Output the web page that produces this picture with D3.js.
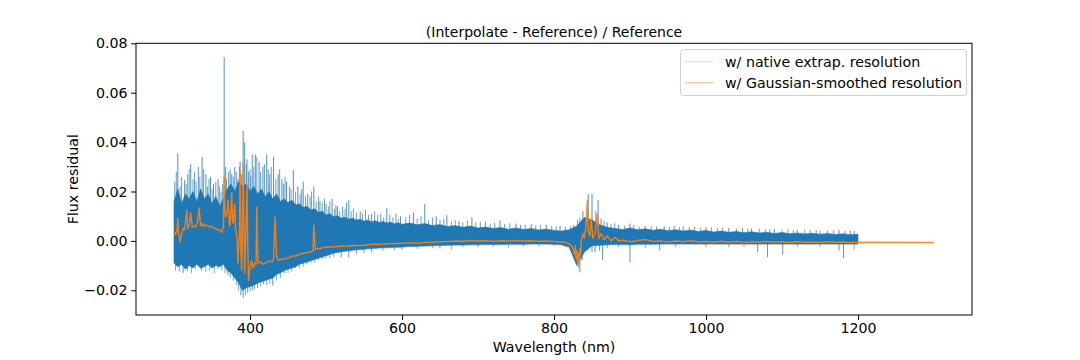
<!DOCTYPE html>
<html><head><meta charset="utf-8">
<script src="https://cdn.jsdelivr.net/npm/d3@7"></script>
<style>
body{margin:0;background:#fff;}
text{font-family:"DejaVu Sans",sans-serif;}
</style></head>
<body><svg id="c" width="1080" height="360"></svg>
<script>
// ---- data ----
const coreWave = [300,305,310,315,320,325,330,335,340,345,350,355,360,365,370,375,380,385,390,395,
400,405,410,415,420,425,430,435,440,445,450,455,460,465,470,475,480,485,490,495,
500,505,510,515,520,525,530,535,540,545,550,555,560,565,570,575,580,585,590,595,600,
610,620,630,640,650,660,670,680,690,700,710,720,730,740,750,760,770,780,790,800,
810,820,830,840,850,860,870,880,890,900,910,920,930,940,950,960,970,980,990,1000,
1010,1020,1030,1040,1050,1060,1070,1080,1090,1100,1110,1120,1130,1140,1150,1160,1170,1180,1190,1200];
const coreUpper = [0.016,0.021,0.015,0.019,0.017,0.020,0.016,0.021,0.017,0.019,0.015,0.018,0.014,0.017,0.021,0.023,0.020,0.024,0.022,0.023,
0.020,0.022,0.019,0.021,0.018,0.020,0.017,0.019,0.016,0.017,0.0155,0.0165,0.0145,0.015,0.0135,0.014,0.0125,0.013,0.0115,0.012,
0.0105,0.011,0.0098,0.0102,0.0092,0.0096,0.0088,0.0092,0.0084,0.0088,0.0080,0.0085,0.0077,0.0082,0.0074,0.0079,0.0072,0.0076,0.0069,0.0073,0.0067,
0.0072,0.0065,0.0070,0.0062,0.0066,0.0058,0.0062,0.0055,0.0060,0.0052,0.0056,0.0050,0.0054,0.0047,0.0052,0.0046,0.0050,0.0044,0.0048,0.0042,
0.0040,0.0045,0.0060,0.0095,0.0085,0.0065,0.0055,0.0050,0.0046,0.0052,0.0045,0.0049,0.0043,0.0047,0.0041,0.0045,0.0040,0.0044,0.0038,0.0042,
0.0036,0.0040,0.0035,0.0038,0.0033,0.0037,0.0032,0.0035,0.0030,0.0034,0.0029,0.0032,0.0028,0.0031,0.0027,0.0030,0.0026,0.0029,0.0025,0.0027];
const coreLower = [-0.009,-0.0105,-0.0095,-0.0115,-0.010,-0.011,-0.0095,-0.011,-0.0105,-0.0095,-0.011,-0.010,-0.0105,-0.0095,-0.012,-0.013,-0.015,-0.017,-0.020,-0.019,
-0.0185,-0.018,-0.017,-0.0165,-0.016,-0.0155,-0.015,-0.0135,-0.013,-0.012,-0.0115,-0.011,-0.0105,-0.0095,-0.009,-0.0085,-0.008,-0.0075,-0.007,-0.0065,
-0.006,-0.0055,-0.005,-0.0047,-0.0044,-0.0042,-0.004,-0.0038,-0.0036,-0.0035,-0.0034,-0.0032,-0.0031,-0.003,-0.0029,-0.0028,-0.0028,-0.0027,-0.0026,-0.0026,-0.0025,
-0.0023,-0.0022,-0.0021,-0.0020,-0.0019,-0.0018,-0.0017,-0.0017,-0.0016,-0.0016,-0.0015,-0.0015,-0.0015,-0.0014,-0.0014,-0.0014,-0.0013,-0.0013,-0.0013,-0.0014,
-0.0016,-0.0025,-0.0100,-0.0045,-0.0020,-0.0018,-0.0016,-0.0015,-0.0015,-0.0016,-0.0014,-0.0014,-0.0014,-0.0013,-0.0013,-0.0013,-0.0013,-0.0013,-0.0013,-0.0013,
-0.0013,-0.0013,-0.0013,-0.0013,-0.0013,-0.0013,-0.0013,-0.0013,-0.0013,-0.0013,-0.0013,-0.0013,-0.0013,-0.0013,-0.0013,-0.0013,-0.0013,-0.0013,-0.0013,-0.0013];

// tall isolated spikes
const spikeWave = [305,314,322,332,337,342,348,352,358,366,368,372,376,380,384,387,391,393,396,400,403,407,412,417,422,426,431,437,442,448,
457,463,470,476,484,492,500,508,515,522,530,545,560,580,598,615,630,645,659,675,692,710,729,750,770,790,808,838,845,850,858,862,870,885,900,920,945,970,1000,1030,1060,1090,1120,1150,1175,1195];
const spikeTop = [0.0355,0.0246,0.031,0.030,0.034,0.027,0.026,0.023,0.025,0.0745,0.030,0.028,0.027,0.030,0.025,0.032,0.0445,0.040,0.033,0.029,0.035,0.035,0.032,0.030,0.035,0.027,0.034,0.027,0.025,0.024,
0.0287,0.022,0.024,0.019,0.022,0.016,0.015,0.017,0.014,0.0137,0.0165,0.012,0.011,0.0133,0.010,0.0115,0.015,0.010,0.0104,0.008,0.0096,0.0078,0.0083,0.007,0.0068,0.0065,0.006,0.012,0.019,0.019,0.0165,0.009,0.0075,0.0065,0.007,0.006,0.006,0.0058,0.0055,0.0052,0.005,0.0048,0.0045,0.0042,0.0045,0.004];
// shorter fringe spikes above the dense band
const fringeUp = [[301,0.024],[303,0.028],[308,0.022],[310,0.026],[316,0.023],[318,0.027],[320,0.029],[325,0.025],[327,0.028],[329,0.024],
[334,0.026],[339,0.029],[344,0.022],[346,0.025],[350,0.021],[355,0.024],[360,0.022],[362,0.020],[364,0.023],
[369,0.025],[374,0.029],[378,0.026],[382,0.028],[386,0.030],[389,0.027],[395,0.031],[398,0.028],[401,0.026],[405,0.030],[409,0.034],
[414,0.028],[419,0.031],[424,0.029],[428,0.030],[434,0.025],[439,0.029],[444,0.023],[446,0.026],
[452,0.022],[454,0.021],[460,0.020],[466,0.019],[468,0.021],[473,0.018],[479,0.018],[481,0.020],[487,0.016],[490,0.018],[495,0.0155],[498,0.017],
[503,0.014],[505,0.016],[511,0.013],[513,0.0145],[518,0.012],[525,0.013],[527,0.0155],[533,0.012],[536,0.013],[540,0.0115],[548,0.011],[552,0.0125],
[556,0.0105],[564,0.012],[568,0.0105],[572,0.011],[576,0.0095],[584,0.0105],[588,0.0095],[592,0.011],[595,0.009],
[605,0.0095],[610,0.0105],[620,0.009],[625,0.010],[635,0.0085],[640,0.0095],[650,0.0085],[655,0.009],[665,0.008],[670,0.0085],[680,0.0075],[686,0.0082],
[697,0.0075],[703,0.0078],[716,0.007],[722,0.0072],[735,0.0068],[742,0.0072],[756,0.0065],[762,0.0066],[776,0.0062],[782,0.0065],[797,0.006],[803,0.0058],
[815,0.0057],[822,0.006],[826,0.0065],[831,0.0085],[834,0.0095],[855,0.012],[866,0.008],[875,0.0068],[880,0.0072],[893,0.0062],[905,0.0065],[912,0.0058],
[928,0.006],[935,0.0058],[952,0.0056],[958,0.006],[965,0.0055],[978,0.0056],[985,0.0058],[993,0.0053],[1007,0.0055],[1015,0.0052],[1022,0.0054],
[1040,0.005],[1048,0.0052],[1055,0.0048],[1070,0.005],[1078,0.0047],[1084,0.0049],[1100,0.0046],[1108,0.0047],[1115,0.0044],[1130,0.0045],[1137,0.0043],
[1145,0.0045],[1160,0.0042],[1168,0.0044],[1183,0.004],[1190,0.0042]];
const dipWave = [312,318,336,371,378,388,391,397,403,410,418,430,445,460,475,490,520,530,560,600,650,700,760,800,828,832,834,837,850,854,860,864,900,939,1068,1081,1101,1175,1181];
const dipBottom = [-0.013,-0.012,-0.012,-0.014,-0.016,-0.022,-0.023,-0.021,-0.020,-0.019,-0.0175,-0.018,-0.013,-0.011,-0.0095,-0.0075,-0.0066,-0.0066,-0.0045,-0.0035,-0.003,-0.0025,-0.0022,-0.002,-0.006,-0.0107,-0.0127,-0.0078,-0.0046,-0.0046,-0.004,-0.0078,-0.0086,-0.0038,-0.0046,-0.0066,-0.0056,-0.0038,-0.007];
const fringeDown = [[302,-0.012],[307,-0.0125],[323,-0.013],[328,-0.0115],[342,-0.0125],[347,-0.012],[353,-0.013],[358,-0.0115],[363,-0.012],[367,-0.013],
[374,-0.015],[382,-0.018],[385,-0.020],[394,-0.022],[400,-0.0205],[406,-0.0195],[414,-0.0185],[422,-0.018],[426,-0.0175],[435,-0.016],[440,-0.015],
[450,-0.013],[455,-0.0125],[465,-0.011],[470,-0.0105],[480,-0.009],[485,-0.0088],[495,-0.0075],[500,-0.0072],[505,-0.007],[510,-0.0065],[540,-0.0055],
[550,-0.005],[575,-0.004],[590,-0.0038],[620,-0.0032],[640,-0.003],[665,-0.0035],[680,-0.0026],[720,-0.0024],[740,-0.0028],[780,-0.0022],[815,-0.0025],
[870,-0.003],[885,-0.0025],[920,-0.0028],[960,-0.0025],[1000,-0.0024],[1030,-0.0026],[1050,-0.0025],[1120,-0.0025],[1150,-0.0024],[1195,-0.0035]];

const orangeWave = [300,302,304,305,306,308,310,312,314,317,318,320,322,324,326,328,331,333,335,337,339,341,344,347,350,352,354,357,360,363,
365,366,367,368,370,371,373,374,376,377,378,380,381,383,384,386,387,388,389,390,391,392,393,395,396,397,398,400,402,404,
406,408,409,410,411,414,417,420,423,426,429,431,433,435,437,440,445,450,455,460,465,470,475,480,483,484,486,488,492,496,
500,510,520,530,540,550,560,570,580,590,600,610,620,630,640,650,660,670,680,690,700,710,720,730,740,750,760,770,780,790,
800,810,815,820,823,825,827,828,829,830,831,832,833,834,835,836,838,840,842,844,845,847,849,851,854,857,859,862,866,870,
875,880,885,890,900,910,920,930,940,950,960,970,980,990,1000,1010,1020,1030,1040,1050,1060,1070,1080,1090,1100,1110,1120,1130,1140,1150,
1160,1170,1180,1190,1200,1300];
const orangeVal = [0.0035,0.0025,0.0043,0.0092,0.0035,-0.0005,0.003,0.005,0.0045,0.0125,0.005,0.0064,0.0116,0.0055,0.006,0.0056,0.0075,0.0133,0.006,0.0072,0.0058,0.0064,0.0062,0.0056,0.0058,0.005,0.0052,0.0046,0.0043,0.0035,
0.006,0.026,0.012,0.0097,0.012,0.0165,0.006,0.0072,0.0194,0.008,0.0072,0.015,0.005,0.0015,-0.009,0.002,0.028,-0.0038,-0.012,0.004,0.0315,0.005,-0.013,0.01,0.022,0.0,-0.016,-0.011,-0.008,-0.011,
-0.009,-0.0095,0.0137,-0.004,-0.009,-0.0085,-0.0095,-0.009,-0.0085,-0.008,-0.0085,-0.0075,0.0097,-0.006,-0.0078,-0.0075,-0.0072,-0.007,-0.0062,-0.006,-0.0055,-0.005,-0.0048,-0.0044,-0.004,0.0064,-0.0035,-0.003,-0.0032,-0.0028,
-0.0026,-0.0024,-0.0022,-0.0021,-0.0019,-0.0018,-0.0014,-0.0015,-0.0012,-0.0011,-0.001,-0.0008,-0.0009,-0.0006,-0.0005,-0.0003,-0.0002,0.0,-0.0001,0.0002,0.0,0.0001,-0.0001,0.0001,0.0,0.0002,0.0,0.0001,-0.0001,0.0,
-0.0002,-0.0004,-0.0006,-0.0012,-0.002,-0.003,-0.0055,-0.002,-0.007,-0.004,-0.009,-0.005,-0.0095,-0.003,-0.006,0.0,0.003,0.001,0.006,0.0165,0.004,0.002,0.009,0.001,0.003,0.011,0.001,0.003,0.0005,0.002,
0.0,0.0015,0.0,0.0003,-0.0003,0.0002,0.0006,-0.0002,0.0,-0.0004,0.0,-0.0003,0.0001,-0.0004,-0.0002,-0.0005,-0.0001,-0.0005,-0.0002,-0.0006,-0.0003,-0.0005,-0.0002,-0.0005,-0.0003,-0.0006,-0.0003,-0.0005,-0.0004,-0.0006,
-0.0003,-0.0005,-0.0004,-0.0006,-0.0005,-0.0006];

const xTicks = [400,600,800,1000,1200];
const yTicks = [-0.02,0.00,0.02,0.04,0.06,0.08];
const titleText = "(Interpolate - Reference) / Reference";
const xLabel = "Wavelength (nm)";
const yLabel = "Flux residual";
const legendLabels = ["w/ native extrap. resolution","w/ Gaussian-smoothed resolution"];

// ---- drawing ----
const L=136, R=972, T=43.3, B=315;
const svg = d3.select("#c");
const x = d3.scaleLinear().domain([250,1350]).range([L,R]);
const y = d3.scaleLinear().domain([-0.03,0.08]).range([B,T]);
const blue="#1f77b4", orange="#ff7f0e";

svg.append("defs").append("clipPath").attr("id","clip")
  .append("rect").attr("x",L).attr("y",T).attr("width",R-L).attr("height",B-T);
const g = svg.append("g").attr("clip-path","url(#clip)");

function vlines(data, cls, op, w){
  g.selectAll("line."+cls).data(data).join("line").attr("class",cls)
    .attr("x1",d=>x(d[0])).attr("x2",d=>x(d[0]))
    .attr("y1",y(0)).attr("y2",d=>y(d[1]))
    .attr("stroke",blue).attr("stroke-width",w).attr("stroke-opacity",op);
}
vlines(fringeUp,"fu",0.7,1);
vlines(fringeDown,"fd",0.6,1);
vlines(spikeWave.map((d,i)=>[d,spikeTop[i]]),"sp",0.8,1);
vlines(dipWave.map((d,i)=>[d,dipBottom[i]]),"dp",0.75,1);

// dense core
const area = d3.area().x(d=>x(d)).y0((d,i)=>y(coreLower[i])).y1((d,i)=>y(coreUpper[i]));
g.append("path").datum(coreWave).attr("d",area).attr("fill",blue)
  .attr("stroke",blue).attr("stroke-width",1).attr("stroke-opacity",0.6);

// orange
const line = d3.line().x(d=>x(d)).y((d,i)=>y(orangeVal[i]));
g.append("path").datum(orangeWave).attr("d",line).attr("fill","none")
  .attr("stroke",orange).attr("stroke-width",1.5).attr("stroke-opacity",0.9).attr("stroke-linejoin","round");

// axes
const fs = "14.2px";
const xa = svg.append("g").attr("transform",`translate(0,${B})`)
  .call(d3.axisBottom(x).tickValues(xTicks).tickSize(4.9).tickPadding(3.5).tickFormat(d3.format("d")));
const ya = svg.append("g").attr("transform",`translate(${L},0)`)
  .call(d3.axisLeft(y).tickValues(yTicks).tickSize(4.9).tickPadding(3.5).tickFormat(d=>d3.format(".2f")(d).replace("-","\u2212")));
[xa,ya].forEach(a=>{
  a.select(".domain").remove();
  a.selectAll("text").attr("font-size",fs).attr("fill","#000").attr("font-family","DejaVu Sans");
  a.selectAll("line").attr("stroke","#000").attr("stroke-width",1);
});
svg.append("rect").attr("x",L).attr("y",T).attr("width",R-L).attr("height",B-T)
  .attr("fill","none").attr("stroke","#000").attr("stroke-width",1);

svg.append("text").attr("x",(L+R)/2).attr("y",37).attr("text-anchor","middle")
  .attr("font-size","14px").text(titleText);
svg.append("text").attr("x",(L+R)/2).attr("y",352).attr("text-anchor","middle")
  .attr("font-size",fs).text(xLabel);
svg.append("text").attr("transform",`translate(78,${(T+B)/2}) rotate(-90)`).attr("text-anchor","middle")
  .attr("font-size",fs).text(yLabel);

// legend
const lg = svg.append("g");
lg.append("rect").attr("x",680.5).attr("y",49.5).attr("width",286).attr("height",46).attr("rx",3)
  .attr("fill","#fff").attr("fill-opacity",0.8).attr("stroke","#d0d0d0").attr("stroke-width",1);
const lcol=[blue,orange], lop=[0.2,0.5];
legendLabels.forEach((t,i)=>{
  const yy = 61.7 + i*21;
  lg.append("line").attr("x1",685).attr("x2",713).attr("y1",yy).attr("y2",yy)
    .attr("stroke",lcol[i]).attr("stroke-opacity",lop[i]).attr("stroke-width",1.2);
  lg.append("text").attr("x",725).attr("y",yy+5).attr("font-size",fs).text(t);
});
</script></body></html>
